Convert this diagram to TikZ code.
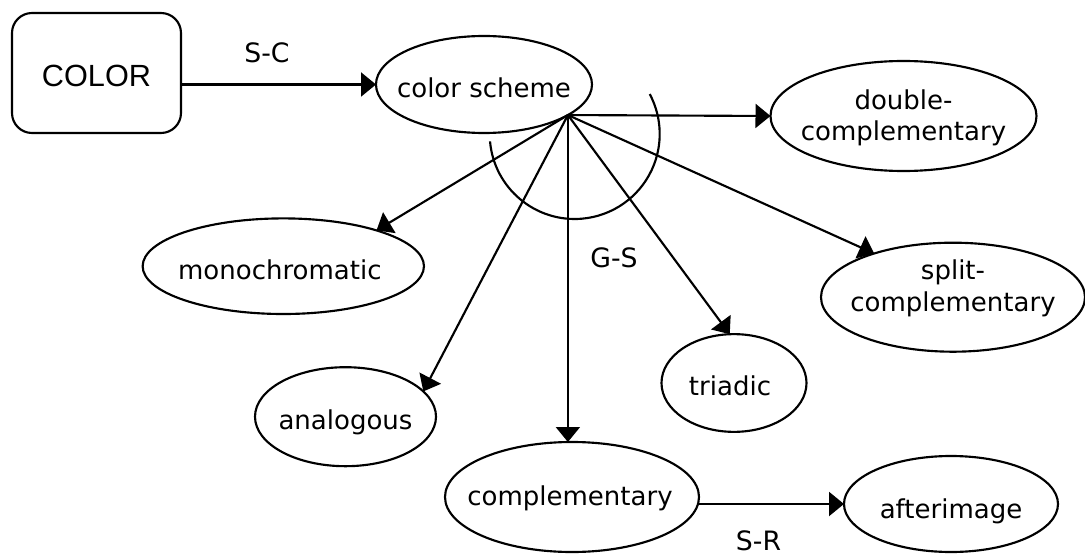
\documentclass[tikz,border=0pt]{standalone}
\usepackage{fontspec}
\setmainfont{DejaVu Sans}
\newfontfamily\titlefont{Liberation Sans}
\usetikzlibrary{arrows.meta,shapes.geometric}

\begin{document}
\begin{tikzpicture}[x=0.75pt,y=-0.75pt,
  stroke/.style={draw=black,line width=1.6pt},
  concept/.style={ellipse,stroke,inner sep=0pt,outer sep=0pt},
  word/.style={font=\fontsize{19.5}{23.6}\selectfont,inner sep=0pt,align=center},
  rel/.style={font=\fontsize{20}{24}\selectfont,inner sep=0pt,anchor=base},
  conn/.style={line width=1.6pt,-{Triangle[length=11.25pt,width=18pt]}},
]
\useasboundingbox (0,0) rectangle (1085,556);

% root concept
\node[stroke,rounded corners=15pt,minimum width=126.75pt,minimum height=90pt,inner sep=0pt] (color) at (96.5,73) {};
\node[font=\titlefont\fontsize{23}{27}\selectfont,inner sep=0pt,anchor=base] (colortxt) at ([yshift=-10.5pt]color.center) {COLOR};

% concept ellipses
\node[concept,minimum width=162pt,minimum height=72.75pt] (scheme) at (484,84.5) {};
\node[word,anchor=base] (schemetxt) at ([yshift=-9.4pt]scheme.center) {color scheme};

\node[concept,minimum width=199.5pt,minimum height=82.5pt] (dc) at (903.5,116) {};
\node[word] (dctxt) at ([yshift=-1.5pt]dc.center) {double-\\complementary};

\node[concept,minimum width=211pt,minimum height=71.7pt] (mono) at (283.3,266.2) {};
\node[word,anchor=base] (monotxt) at ([xshift=-2.6pt,yshift=-9.75pt]mono.center) {monochromatic};

\node[concept,minimum width=198pt,minimum height=81.75pt] (split) at (953,297.2) {};
\node[word] (splittxt) at ([yshift=6.75pt]split.center) {split-\\complementary};

\node[concept,minimum width=108.75pt,minimum height=73.3pt] (tri) at (734,383) {};
\node[word,anchor=base] (tritxt) at ([xshift=-3pt,yshift=-9pt]tri.center) {triadic};

\node[concept,minimum width=135.75pt,minimum height=74.25pt] (ana) at (345.5,416.7) {};
\node[word,anchor=base] (anatxt) at ([yshift=-9.45pt]ana.center) {analogous};

\node[concept,minimum width=190.5pt,minimum height=82.5pt] (comp) at (572,497) {};
\node[word,anchor=base] (comptxt) at ([xshift=-1.5pt,yshift=-6pt]comp.center) {complementary};

\node[concept,minimum width=160.5pt,minimum height=72pt] (after) at (951,504) {};
\node[word,anchor=base] (aftertxt) at ([yshift=-10.5pt]after.center) {afterimage};

% relations
\coordinate (hub) at (scheme.-20);
\draw[conn] (scheme.west -| color.east) -- (scheme.west);
\draw[conn] (hub) -- (dc.west);
\draw[conn] (hub) -- (mono.21);
\draw[conn] (hub) -- (ana.18);
\draw[conn] (hub) -- (hub |- comp.north);
\draw[conn] (hub) -- (tri.95);
\draw[conn] (hub) -- (split.151);
\draw[conn] (after.west -| comp.-3.2) -- (after.west);

% generalisation arc across the fan of links
\coordinate (gsc) at (574.7,134);
\draw[stroke] (gsc) ++(185:63.75pt) arc[start angle=185,end angle=388,radius=63.75pt];

% relation labels
\node[rel] (sc) at (267,63) {S-C};
\node[rel] (gs) at (614,267) {G-S};
\node[rel] (sr) at (758.5,550) {S-R};
\end{tikzpicture}
\end{document}
